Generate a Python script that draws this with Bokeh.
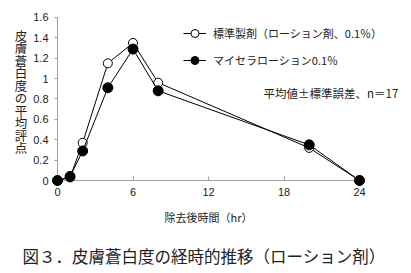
from bokeh.plotting import figure
from bokeh.models import Range1d, FixedTicker, Label, Legend, LegendItem, ColumnDataSource, Title
from bokeh.embed import file_html
from bokeh.resources import INLINE

hours = [0, 1, 2, 4, 6, 8, 20, 24]
standard = [0.0, 0.03, 0.37, 1.15, 1.35, 0.96, 0.32, 0.0]
micelle = [0.0, 0.04, 0.29, 0.91, 1.29, 0.88, 0.35, 0.0]
x_ticks = [0, 6, 12, 18, 24]
y_ticks = [0, 0.2, 0.4, 0.6, 0.8, 1.0, 1.2, 1.4, 1.6]
y_tick_labels = ["0", "0.2", "0.4", "0.6", "0.8", "1", "1.2", "1.4", "1.6"]
series_names = ["標準製剤（ローション剤、0.1％）", "マイセラローション0.1％"]
y_label = "皮膚蒼白度の平均評点"
x_label = "除去後時間（hr）"
note = "平均値±標準誤差、n＝17"
title = "図３．皮膚蒼白度の経時的推移（ローション剤）"

JP = "Noto Sans CJK JP"
NUM = "Liberation Sans"
AXC = "#a0a0a0"
TXT = "#222222"

p = figure(width=411, height=273, output_backend="svg", toolbar_location=None,
           x_range=Range1d(0, 27.97), y_range=Range1d(0, 1.747),
           min_border_left=57, min_border_right=2, min_border_top=2, min_border_bottom=93)
p.outline_line_color = None
p.grid.visible = False
p.background_fill_color = "white"
p.border_fill_color = "white"

p.xaxis.ticker = FixedTicker(ticks=x_ticks)
p.yaxis.ticker = FixedTicker(ticks=y_ticks)
p.xaxis.bounds = (x_ticks[0], x_ticks[-1])
p.yaxis.bounds = (y_ticks[0], y_ticks[-1])
p.yaxis.major_label_overrides = {t: l for t, l in zip(y_ticks, y_tick_labels)}
for ax in (p.xaxis, p.yaxis):
    ax.axis_line_color = AXC
    ax.major_tick_line_color = AXC
    ax.minor_tick_line_color = None
    ax.major_label_text_font = NUM
    ax.major_label_text_font_size = "11px"
    ax.major_label_text_color = TXT
    ax.axis_label_text_font = JP
    ax.axis_label_text_font_style = "normal"
    ax.axis_label_text_color = TXT
p.xaxis.major_tick_in = 4
p.xaxis.major_tick_out = 0
p.yaxis.major_tick_in = 0
p.yaxis.major_tick_out = 3
p.xaxis.major_label_standoff = 7
p.yaxis.major_label_standoff = 6

p.yaxis.axis_label = "\n".join(y_label)
p.yaxis.axis_label_orientation = "horizontal"
p.yaxis.axis_label_text_font_size = "12.5px"
p.yaxis.axis_label_text_line_height = 0.655
p.yaxis.axis_label_standoff = 3

src = ColumnDataSource(dict(x=hours, a=standard, b=micelle))
la = p.line("x", "a", source=src, line_color="black", line_width=1)
ma = p.scatter("x", "a", source=src, size=9, fill_color="white", line_color="black", line_width=1)
lb = p.line("x", "b", source=src, line_color="black", line_width=1)
mb = p.scatter("x", "b", source=src, size=10, fill_color="black", line_color="black")
for r in (la, ma, lb, mb):
    r.level = "overlay"

legend = Legend(items=[LegendItem(label=series_names[0], renderers=[la, ma]),
                       LegendItem(label=series_names[1], renderers=[lb, mb])],
                location=(126, 110), padding=0, margin=0, spacing=7,
                glyph_width=23, glyph_height=20, label_height=20, label_standoff=7,
                label_text_font=JP, label_text_font_size="11px", label_text_color=TXT,
                border_line_color=None, background_fill_alpha=0)
p.add_layout(legend, "center")

p.add_layout(Label(x=206, y=88, x_units="screen", y_units="screen", text=note,
                   text_font=JP, text_font_size="11.5px", text_color=TXT,
                   text_baseline="middle", text_align="left"))

xt = Title(text=x_label, align="left", offset=107, vertical_align="top", text_font=JP,
           text_font_size="11px", text_font_style="normal", text_color=TXT, standoff=20)
p.add_layout(xt, "below")
t = Title(text=title, align="left", offset=-35, vertical_align="bottom", text_font=JP,
          text_font_size="16.5px", text_font_style="normal", text_color=TXT, standoff=11)
p.add_layout(t, "below")

open("out.html", "w").write(file_html(p, INLINE))
